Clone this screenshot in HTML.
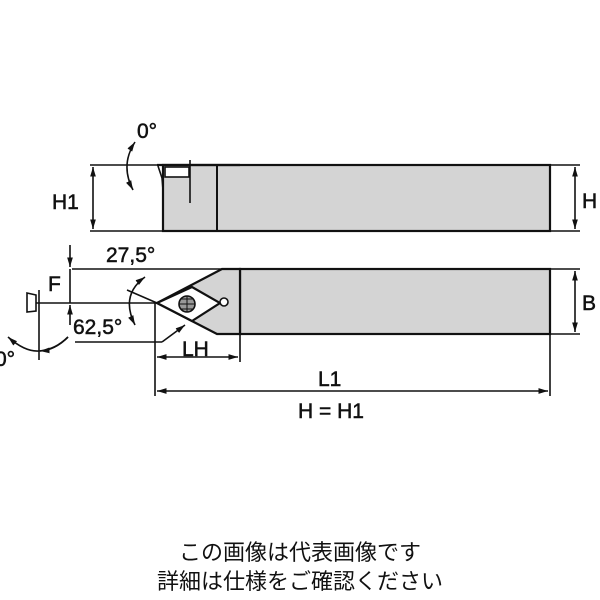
<!DOCTYPE html>
<html><head><meta charset="utf-8"><style>
body{margin:0;background:#fff;width:600px;height:600px;overflow:hidden}
svg{position:absolute;left:0;top:0}
.t{font-family:"Liberation Sans",Arial,sans-serif;font-size:21px;fill:#111;stroke:#111;stroke-width:0.5}
.j{position:absolute;left:0;width:600px;text-align:center;font-family:"Liberation Sans","Noto Sans CJK JP",sans-serif;font-size:22px;color:#111;line-height:26px}
</style></head><body>
<svg width="600" height="600" viewBox="0 0 600 600">
<defs><marker id="a" viewBox="0 0 10 10" refX="10" refY="5" markerWidth="6" markerHeight="6" orient="auto-start-reverse"><path d="M0,2 L10,5 L0,8z" fill="#111"/></marker></defs>
<g stroke="#111" fill="none" stroke-width="1.6">
<!-- top view -->
<rect x="163" y="165" width="387" height="66" fill="#d4d4d4" stroke-width="2.2"/>
<line x1="217" y1="165" x2="217" y2="231" stroke-width="2"/>
<path d="M157,165 L240,165" stroke-width="2.2"/>
<path d="M158,166 L162,178 L163,190" />
<rect x="165" y="167" width="24" height="10" fill="#fff"/>
<line x1="190" y1="160" x2="190" y2="203"/>
<line x1="90" y1="165" x2="163" y2="165"/>
<line x1="90" y1="231" x2="163" y2="231"/>
<line x1="93" y1="167" x2="93" y2="229" marker-start="url(#a)" marker-end="url(#a)"/>
<line x1="550" y1="165" x2="580" y2="165"/>
<line x1="550" y1="231" x2="580" y2="231"/>
<line x1="575" y1="167" x2="575" y2="229" marker-start="url(#a)" marker-end="url(#a)"/>
<path d="M135,142 Q120,165 133,190" marker-start="url(#a)" marker-end="url(#a)"/>
<!-- bottom view -->
<rect x="240" y="269" width="310" height="65" fill="#d4d4d4" stroke-width="2.2"/>
<path d="M222,269 L240,269 L240,334 L217,334 L157,303 Z" fill="#d4d4d4" stroke-width="2.2"/>
<path d="M157,303 L192,287 L220,303 L192,321 Z" fill="#fff" stroke-width="2.2"/>
<circle cx="187" cy="304" r="8" fill="#999"/>
<path d="M179,304 H195 M187,296 V312 M181,299 H193 M181,309 H193" stroke-width="1"/>
<circle cx="224" cy="302" r="4" fill="#fff"/>
<line x1="127" y1="290" x2="157" y2="303"/>
<line x1="72" y1="269" x2="222" y2="269"/>
<line x1="27" y1="303" x2="157" y2="303"/>
<line x1="70" y1="245" x2="70" y2="267" marker-end="url(#a)"/>
<line x1="70" y1="325" x2="70" y2="305" marker-end="url(#a)"/>
<line x1="70" y1="269" x2="70" y2="303"/>
<line x1="550" y1="269" x2="580" y2="269"/>
<line x1="550" y1="334" x2="580" y2="334"/>
<line x1="575" y1="271" x2="575" y2="332" marker-start="url(#a)" marker-end="url(#a)"/>
<path d="M145,277 Q120,295 135,325" marker-start="url(#a)" marker-end="url(#a)"/>
<line x1="75" y1="342" x2="162" y2="342"/>
<path d="M162,342 L185,325" marker-end="url(#a)"/>
<line x1="39" y1="290" x2="39" y2="360"/>
<path d="M27,293 L36,295 L36,311 L27,312 Z" fill="#fff"/>
<path d="M8,337 Q25,352 39,351 Q55,350 68,337" marker-start="url(#a)"/>
<path d="M68,337 Q55,350 40,351" marker-end="url(#a)"/>
<line x1="155" y1="303" x2="155" y2="396"/>
<line x1="240" y1="334" x2="240" y2="362"/>
<line x1="157" y1="357" x2="238" y2="357" marker-start="url(#a)" marker-end="url(#a)"/>
<line x1="550" y1="334" x2="550" y2="396"/>
<line x1="157" y1="391" x2="548" y2="391" marker-start="url(#a)" marker-end="url(#a)"/>
</g>
<text class="t" x="137" y="138">0°</text>
<text class="t" x="52" y="209">H1</text>
<text class="t" x="582" y="208">H</text>
<text class="t" x="106" y="262">27,5°</text>
<text class="t" x="48" y="291">F</text>
<text class="t" x="582" y="310">B</text>
<text class="t" x="73" y="334">62,5°</text>
<text class="t" x="-5" y="366">0°</text>
<text class="t" x="182" y="356">LH</text>
<text class="t" x="318" y="386">L1</text>
<text class="t" x="298" y="418">H = H1</text>
</svg>
<div class="j" style="top:540px">この画像は代表画像です</div>
<div class="j" style="top:569px">詳細は仕様をご確認ください</div>
</body></html>
